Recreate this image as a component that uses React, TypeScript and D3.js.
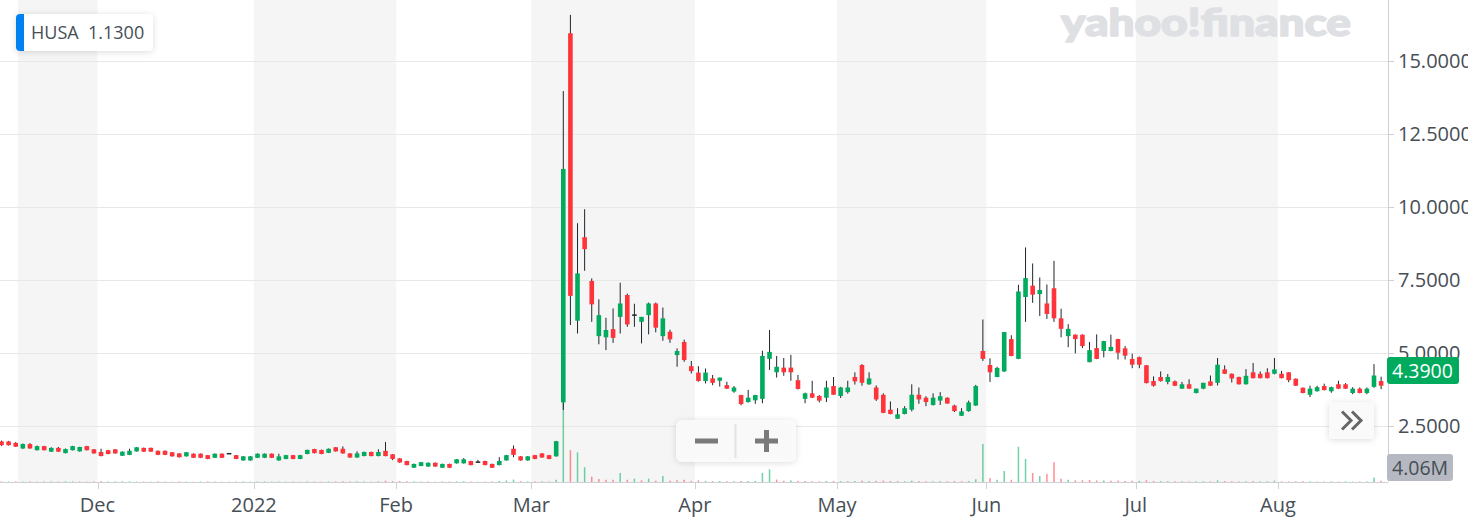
import React from 'react';
import * as d3 from 'd3';

// ---------- data ----------
const symbol = 'HUSA';
const legendValue = '1.1300';
const lastPrice = 4.39;
const lastVolumeLabel = '4.06M';

// [open, high, low, close] per trading day, from 2021-11-10 to 2022-08-19
const candles: [number, number, number, number][] = [
  [1.96,1.99,1.81,1.83],[1.96,1.98,1.82,1.83],[1.91,1.94,1.77,1.78],[1.72,1.89,1.70,1.87],[1.87,1.90,1.71,1.72],
  [1.66,1.82,1.65,1.80],[1.80,1.81,1.65,1.66],[1.61,1.76,1.60,1.74],[1.74,1.77,1.60,1.61],[1.56,1.72,1.55,1.70],
  [1.66,1.81,1.65,1.80],[1.62,1.78,1.61,1.77],[1.80,1.81,1.65,1.66],[1.69,1.70,1.54,1.55],[1.60,1.71,1.45,1.46],
  [1.66,1.67,1.52,1.53],[1.69,1.70,1.54,1.55],[1.47,1.62,1.46,1.61],[1.50,1.71,1.49,1.64],[1.62,1.77,1.61,1.76],
  [1.74,1.75,1.60,1.61],[1.74,1.75,1.60,1.61],[1.64,1.65,1.49,1.50],[1.64,1.65,1.49,1.50],[1.59,1.60,1.44,1.45],
  [1.55,1.56,1.41,1.42],[1.45,1.60,1.44,1.59],[1.54,1.55,1.39,1.40],[1.54,1.55,1.39,1.40],[1.49,1.50,1.35,1.36],
  [1.40,1.55,1.39,1.54],[1.54,1.55,1.39,1.40],[1.54,1.55,1.53,1.54],[1.49,1.50,1.35,1.36],[1.31,1.46,1.30,1.45],
  [1.31,1.46,1.30,1.45],[1.40,1.55,1.39,1.54],[1.40,1.55,1.39,1.54],[1.54,1.55,1.39,1.40],[1.31,1.54,1.30,1.45],
  [1.36,1.50,1.35,1.49],[1.49,1.50,1.35,1.36],[1.36,1.50,1.35,1.49],[1.53,1.68,1.52,1.67],[1.70,1.71,1.55,1.56],
  [1.67,1.68,1.52,1.53],[1.57,1.72,1.56,1.71],[1.76,1.77,1.61,1.62],[1.71,1.79,1.54,1.55],[1.55,1.56,1.40,1.41],
  [1.41,1.62,1.40,1.55],[1.46,1.61,1.45,1.60],[1.60,1.61,1.45,1.46],[1.46,1.69,1.45,1.60],[1.64,1.94,1.45,1.46],
  [1.52,1.53,1.32,1.36],[1.38,1.39,1.23,1.24],[1.29,1.30,1.14,1.15],[1.06,1.20,1.05,1.19],[1.12,1.26,1.11,1.25],
  [1.10,1.24,1.09,1.23],[1.23,1.24,1.09,1.10],[1.06,1.20,1.05,1.19],[1.19,1.20,1.05,1.06],[1.21,1.36,1.20,1.35],
  [1.21,1.39,1.20,1.35],[1.29,1.30,1.14,1.15],[1.25,1.33,1.24,1.25],[1.29,1.30,1.14,1.15],[1.19,1.20,1.05,1.06],
  [1.15,1.42,1.14,1.29],[1.31,1.50,1.30,1.49],[1.71,1.82,1.42,1.50],[1.45,1.46,1.30,1.31],[1.31,1.46,1.30,1.45],
  [1.49,1.50,1.35,1.36],[1.55,1.56,1.40,1.41],[1.49,1.50,1.35,1.36],[1.45,1.98,1.44,1.97],[3.30,13.97,3.04,11.30],
  [15.95,16.58,5.95,6.95],[6.10,9.44,5.66,7.72],[8.96,9.92,7.81,8.55],[7.46,7.55,6.06,6.66],[5.57,6.83,5.29,6.29],
  [5.53,6.20,5.09,5.78],[5.81,6.52,5.34,5.51],[6.23,7.40,5.66,6.69],[6.98,7.03,5.89,5.97],[6.29,6.68,5.89,6.29],
  [6.06,6.23,5.32,6.23],[6.29,6.72,5.63,6.69],[6.69,6.72,5.70,5.86],[5.57,6.55,5.41,6.18],[5.72,5.79,5.34,5.46],
  [4.92,5.15,4.52,5.06],[5.37,5.45,4.69,4.75],[4.54,4.72,4.29,4.37],[4.32,4.54,4.01,4.03],[4.03,4.46,3.95,4.32],
  [4.12,4.24,3.89,3.97],[4.04,4.15,3.84,4.15],[3.89,4.01,3.76,3.77],[3.67,3.86,3.63,3.81],[3.55,3.56,3.20,3.24],
  [3.31,3.73,3.29,3.46],[3.37,3.56,3.25,3.55],[3.42,5.07,3.27,4.89],[4.79,5.78,4.41,5.03],[4.33,4.89,4.15,4.52],
  [4.49,4.82,4.21,4.33],[4.49,4.93,4.04,4.33],[4.06,4.24,3.74,3.76],[3.42,3.63,3.27,3.61],[3.61,4.04,3.45,3.46],
  [3.52,3.55,3.30,3.36],[3.46,4.04,3.31,3.81],[3.86,4.17,3.55,3.56],[3.52,3.83,3.45,3.81],[3.65,4.04,3.60,3.81],
  [4.17,4.33,3.91,4.02],[4.58,4.61,3.87,3.97],[3.92,4.33,3.90,4.12],[3.81,3.88,3.35,3.40],[3.56,3.61,2.93,2.94],
  [3.05,3.33,2.89,2.90],[2.74,3.10,2.73,2.89],[2.90,3.17,2.89,3.10],[3.05,3.92,2.99,3.56],[3.56,3.81,3.25,3.40],
  [3.46,3.51,3.17,3.31],[3.21,3.61,3.19,3.46],[3.36,3.65,3.21,3.51],[3.46,3.47,3.25,3.26],[3.19,3.22,2.97,3.00],
  [2.84,3.10,2.83,2.99],[3.00,3.36,2.98,3.30],[3.19,3.90,3.18,3.86],[5.06,6.14,4.72,4.79],[4.58,4.81,4.00,4.33],
  [4.17,4.52,4.16,4.48],[4.36,5.71,4.34,5.71],[5.47,5.60,4.88,4.89],[4.79,7.33,4.78,7.10],[6.91,8.61,6.06,7.56],
  [7.30,8.06,6.71,6.99],[7.01,7.58,6.26,7.15],[6.69,7.34,6.16,6.33],[7.21,8.15,6.06,6.18],[6.18,6.51,5.53,5.82],
  [5.57,5.98,5.19,5.82],[5.62,5.63,4.98,5.47],[5.62,5.63,5.16,5.23],[4.68,5.37,4.67,5.09],[5.16,5.63,4.78,4.79],
  [5.06,5.41,4.84,5.40],[5.06,5.62,5.05,5.20],[5.47,5.48,4.77,5.00],[5.15,5.23,4.77,4.90],[4.79,4.97,4.47,4.59],
  [4.85,4.87,4.47,4.59],[4.57,4.58,3.95,3.96],[4.03,4.19,3.84,3.87],[4.17,4.36,4.01,4.03],[4.00,4.27,3.92,4.17],
  [4.02,4.05,3.86,3.87],[3.77,4.00,3.76,3.92],[3.92,4.09,3.76,3.77],[3.62,3.77,3.61,3.77],[3.77,3.97,3.75,3.97],
  [4.02,4.22,3.86,3.87],[3.97,4.82,3.88,4.59],[4.43,4.57,4.27,4.28],[4.28,4.29,3.98,4.12],[4.17,4.18,3.91,3.92],
  [3.92,4.44,3.91,4.21],[4.33,4.65,4.12,4.13],[4.28,4.36,4.12,4.13],[4.33,4.47,4.12,4.13],[4.28,4.82,4.26,4.43],
  [4.28,4.38,4.12,4.13],[4.33,4.34,3.99,4.06],[4.11,4.12,3.86,3.87],[3.80,3.81,3.61,3.62],[3.56,3.87,3.48,3.77],
  [3.68,3.87,3.67,3.82],[3.86,3.94,3.71,3.72],[3.68,3.84,3.63,3.82],[3.92,4.04,3.76,3.77],[3.92,3.96,3.76,3.77],
  [3.62,3.82,3.58,3.77],[3.77,3.81,3.61,3.62],[3.62,3.81,3.58,3.77],[3.83,4.61,3.80,4.22],[4.03,4.18,3.75,3.87],
];

// daily volume, millions of shares
const volumes: number[] = [
  0.5,0.4,0.6,0.4,0.5,0.3,0.4,0.5,0.4,0.6,0.5,0.4,0.3,0.5,0.8,0.4,0.5,0.6,0.7,0.4,
  0.4,0.3,0.5,0.4,0.3,0.5,0.4,0.3,0.4,0.5,0.4,0.3,0.3,0.4,0.5,0.3,0.4,0.5,0.3,0.4,
  0.3,0.4,0.3,0.5,0.4,0.3,0.4,0.5,0.7,0.5,0.6,0.4,0.3,0.6,1.2,0.8,0.9,0.7,0.6,0.5,
  0.4,0.3,0.5,0.4,0.6,0.7,0.4,0.3,0.4,0.5,0.9,1.4,2.2,0.8,0.6,0.5,0.6,0.5,2.0,
  95,29,27,13.5,4.8,2.7,2,2,8.2,2,3,1.5,3,1.2,5.5,1.2,1.5,2,1,1.5,
  1,0.8,0.9,0.7,0.8,1,0.9,0.9,8.2,11.5,2.2,1.2,1.5,1,0.9,0.8,0.7,1,0.9,0.8,
  0.7,0.9,1.2,0.8,1,1.3,0.9,0.8,0.7,1.2,0.8,0.7,0.6,0.7,0.6,0.8,0.7,0.9,2.5,
  34.5,3.6,2,10,2,32,21,8.2,5.5,7.3,18,3,2,
  1.5,1.6,1.8,1.4,1.5,1.2,1.3,1,1.2,1,1.5,0.9,0.8,0.7,0.6,0.6,0.5,0.5,0.6,0.5,
  1.5,0.8,0.6,0.5,0.6,0.7,0.5,0.6,1.2,0.6,0.5,0.6,0.7,0.5,0.4,0.4,0.5,0.4,0.5,0.4,0.4,0.5,4.06,1.2,
];

// first trading day of each month (bar index) and its label
const monthLabels = ['Dec', '2022', 'Feb', 'Mar', 'Apr', 'May', 'Jun', 'Jul', 'Aug'];
const monthStarts = [14, 36, 56, 75, 98, 118, 139, 160, 180];
// shaded (alternate) month bands, [startIndex, endIndex]
const shadedBands: [number, number][] = [[2.8, 14], [36, 56], [75, 98], [118, 139], [160, 180]];
const priceTicks = [2.5, 5, 7.5, 10, 12.5, 15];

const GREEN = '#00ab5e';
const RED = '#ff333a';
const TEXT = '#464e56';
const FONT = '"Open Sans", "Noto Sans", sans-serif';

export default function App() {
  const W = 1468, H = 522;
  const plotRight = 1388, plotBottom = 482;
  const x = d3.scaleLinear().domain([14, 180]).range([97.5, 1278]);
  const y = d3.scaleLinear().domain([2.5, 15]).range([425.7, 61]);
  const v = d3.scaleLinear().domain([0, 100]).range([plotBottom, plotBottom - 110]);
  const bw = 4.6;
  const fmt = d3.format('.4f');

  return (
    <svg width={W} height={H} style={{ position: 'fixed', left: 0, top: 0, background: '#fff' }}>
      <defs>
        <clipPath id="plot"><rect x={0} y={0} width={plotRight} height={plotBottom} /></clipPath>
        <filter id="sh" x="-20%" y="-30%" width="140%" height="170%">
          <feDropShadow dx="0" dy="1" stdDeviation="3" floodColor="#000" floodOpacity="0.14" />
        </filter>
      </defs>

      {/* month bands */}
      {shadedBands.map(([a, b], i) => (
        <rect key={i} x={x(a)} y={0} width={x(b) - x(a)} height={plotBottom} fill="#f5f5f5" />
      ))}

      {/* grid */}
      {priceTicks.map((t) => (
        <line key={t} x1={0} x2={plotRight} y1={Math.round(y(t)) + 0.5} y2={Math.round(y(t)) + 0.5} stroke="#e8e8e8" />
      ))}

      {/* logo */}
      <text x={1061} y={36} fontFamily='Lato, "Open Sans", sans-serif' fontWeight={900} fontSize={38}
        fill="#dfe0e3" stroke="#dfe0e3" strokeWidth={1.6} strokeLinejoin="round"
        textLength={290} lengthAdjust="spacingAndGlyphs">yahoo!finance</text>

      <g clipPath="url(#plot)">
        {/* volume */}
        {volumes.map((vol, i) => {
          const up = i === 0 ? candles[i][3] >= candles[i][0] : candles[i][3] >= candles[i - 1][3];
          const cx = x(i + 0.5);
          return (
            <rect key={'v' + i} x={cx - 0.75} y={v(vol)} width={1.5} height={plotBottom - v(vol)}
              fill={up ? GREEN : RED} opacity={0.55} />
          );
        })}
        {/* candles */}
        {candles.map(([o, h, l, c], i) => {
          const cx = x(i + 0.5);
          const up = c > o;
          const doji = c === o;
          const top = y(Math.max(o, c));
          const bot = y(Math.min(o, c));
          return (
            <g key={'c' + i}>
              <line x1={cx} x2={cx} y1={y(h)} y2={y(l)} stroke="#1f262d" strokeWidth={1} />
              {doji ? (
                <rect x={cx - bw / 2} y={top - 0.75} width={bw} height={1.5} fill="#1f262d" />
              ) : (
                <rect x={cx - bw / 2} y={top} width={bw} height={Math.max(1, bot - top)} fill={up ? GREEN : RED} />
              )}
            </g>
          );
        })}
      </g>

      {/* axes */}
      <line x1={plotRight + 0.5} x2={plotRight + 0.5} y1={0} y2={plotBottom} stroke="#cdd0d4" />
      <line x1={0} x2={plotRight} y1={plotBottom + 0.5} y2={plotBottom + 0.5} stroke="#cdd0d4" />
      {priceTicks.map((t) => (
        <g key={'yt' + t}>
          <line x1={plotRight} x2={plotRight + 6} y1={Math.round(y(t)) + 0.5} y2={Math.round(y(t)) + 0.5} stroke="#cdd0d4" />
          <text x={1398} y={y(t) + 7} fontFamily={FONT} fontSize={20} fill={TEXT}>{fmt(t)}</text>
        </g>
      ))}
      {monthStarts.map((m, i) => (
        <g key={'xt' + i}>
          <line x1={Math.round(x(m)) + 0.5} x2={Math.round(x(m)) + 0.5} y1={plotBottom} y2={plotBottom + 7} stroke="#cdd0d4" />
          <text x={x(m)} y={512} textAnchor="middle" fontFamily={FONT} fontSize={20} fill={TEXT}>{monthLabels[i]}</text>
        </g>
      ))}

      {/* last price label */}
      <rect x={1387} y={y(lastPrice) - 13.5} width={72} height={27} rx={3} fill={GREEN} />
      <text x={1392} y={y(lastPrice) + 7} fontFamily={FONT} fontSize={19.5} fill="#fff">{fmt(lastPrice)}</text>
      {/* last volume label */}
      <rect x={1387} y={454} width={66} height={27} rx={3} fill="#b6b9c1" />
      <text x={1392} y={474.5} fontFamily={FONT} fontSize={19.5} fill={TEXT}>{lastVolumeLabel}</text>

      {/* legend */}
      <g filter="url(#sh)">
        <rect x={16} y={14} width={137} height={37} rx={4} fill="#fff" />
      </g>
      <path d="M20,14 H24 V51 H20 A4,4 0 0 1 16,47 V18 A4,4 0 0 1 20,14 Z" fill="#0081f2" />
      <text x={31} y={39} fontFamily={FONT} fontSize={18} fill={TEXT}>{symbol}</text>
      <text x={88} y={39} fontFamily={FONT} fontSize={18} fill={TEXT}>{legendValue}</text>

      {/* zoom buttons */}
      <g filter="url(#sh)">
        <rect x={676} y={420} width={120} height={42} rx={6} fill="#fafafa" fillOpacity={0.95} />
      </g>
      <line x1={735.5} x2={735.5} y1={424} y2={458} stroke="#e3e3e3" strokeWidth={2} />
      <rect x={695} y={438.5} width={23} height={5} fill="#7a7a7a" />
      <rect x={755} y={438.5} width={23} height={5} fill="#7a7a7a" />
      <rect x={764} y={430} width={5} height={22} fill="#7a7a7a" />

      {/* scroll-to-end button */}
      <g filter="url(#sh)">
        <rect x={1329} y={402} width={45} height={37} rx={4} fill="#fafafa" />
      </g>
      <polyline points="1342,411.5 1351,420.5 1342,429.5" fill="none" stroke="#666" strokeWidth={3} />
      <polyline points="1352,411.5 1361,420.5 1352,429.5" fill="none" stroke="#666" strokeWidth={3} />
    </svg>
  );
}
